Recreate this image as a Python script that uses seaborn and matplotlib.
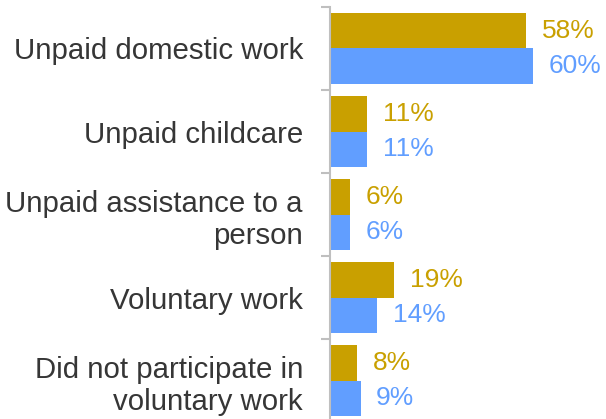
import matplotlib
matplotlib.use("Agg")
import matplotlib.pyplot as plt
import seaborn as sns
import pandas as pd
import numpy as np

categories = [
    "Unpaid domestic work",
    "Unpaid childcare",
    "Unpaid assistance to a\nperson",
    "Voluntary work",
    "Did not participate in\nvoluntary work",
]
series_names = ["Group A", "Group B"]
values_a = [58, 11, 6, 19, 8]
values_b = [60, 11, 6, 14, 9]
colors = ["#C9A000", "#619EFF"]

df = pd.DataFrame({
    "category": categories * 2,
    "series": [series_names[0]] * len(categories) + [series_names[1]] * len(categories),
    "value": values_a + values_b,
})

sns.set_style("white")
plt.rcParams["font.family"] = ["Liberation Sans", "DejaVu Sans"]

fig = plt.figure(figsize=(6.06, 4.19), dpi=100)
ax = fig.add_axes([0.5446, -0.0072, 0.4554, 0.9905])

sns.barplot(data=df, y="category", x="value", hue="series", order=categories,
            hue_order=series_names, palette=colors, orient="h", width=0.86,
            legend=False, saturation=1, ax=ax, edgecolor="none")

ax.set_xlim(0, 81.5)
n = len(categories)
ax.set_ylim(n - 0.5, -0.5)

# value labels next to each bar, in the bar's colour
for container, col in zip(ax.containers, colors):
    labels = [f"{v:.0f}%" for v in container.datavalues]
    ax.bar_label(container, labels=labels, padding=11, color=col, fontsize=19)

# category labels at band centres, tick marks at band boundaries
ax.set_yticks(np.arange(n))
ax.set_yticklabels(categories, fontsize=21.2, color="#363636", ha="right")
ax.tick_params(axis="y", which="major", length=0, pad=19.5)
ax.set_yticks(np.arange(n + 1) - 0.5, minor=True)
ax.tick_params(axis="y", which="minor", length=6.5, width=1.5, color="#BFBFBF", left=True)
ax.set_xticks([])
ax.set_xlabel("")
ax.set_ylabel("")

for s in ["top", "right", "bottom"]:
    ax.spines[s].set_visible(False)
ax.spines["left"].set_color("#BFBFBF")
ax.spines["left"].set_linewidth(1.5)

fig.savefig("out.png", dpi=100)
